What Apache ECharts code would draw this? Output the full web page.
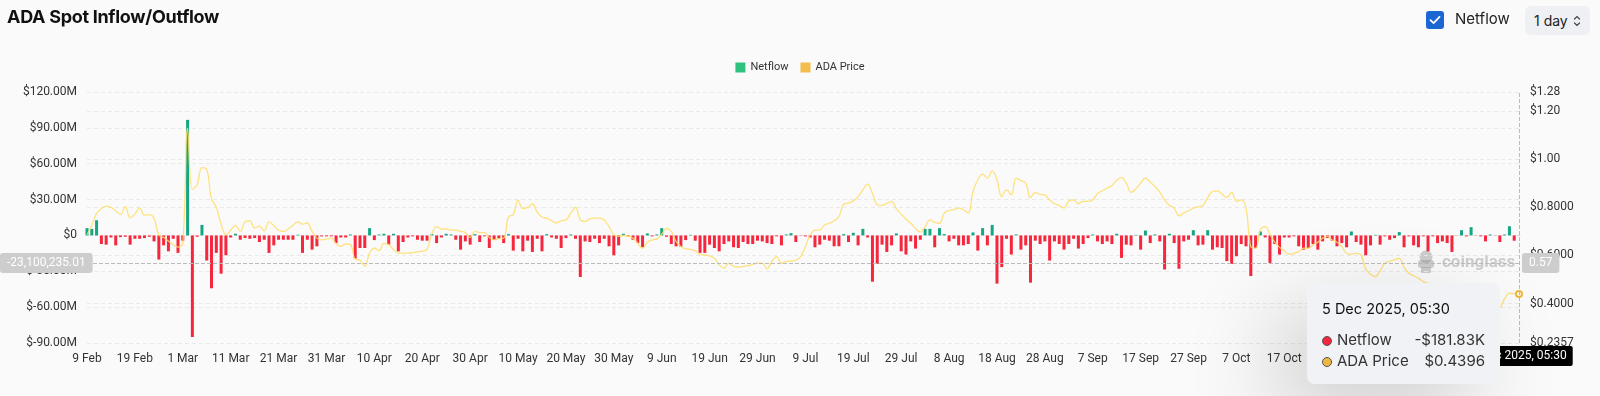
<!DOCTYPE html>
<html>
<head>
<meta charset="utf-8">
<script src="https://cdn.jsdelivr.net/npm/echarts@6/dist/echarts.min.js"></script>
<style>
html, body { margin: 0; padding: 0; background: #fafafa; }
#wrap { position: relative; width: 1600px; height: 396px; overflow: hidden; }
#chart { position: absolute; left: 0; top: 0; width: 1600px; height: 396px; }
.title { position: absolute; left: 7px; top: 6px; font: 700 18px Inter, sans-serif; color: #111; letter-spacing: -0.3px; z-index: 2; }
.check { position: absolute; left: 1426px; top: 11px; width: 18px; height: 18px; border-radius: 3px; background: #1a66d2; z-index: 2; }
.check svg { position: absolute; left: 2px; top: 2px; }
.checklabel { position: absolute; left: 1455px; top: 9px; font: 400 15px Inter, sans-serif; color: #222; z-index: 2; }
.select { position: absolute; left: 1525px; top: 6px; width: 65px; height: 29px; border-radius: 6px; background: #eef0f3; z-index: 2; }
.select span { position: absolute; left: 9px; top: 6px; font: 400 14px Inter, sans-serif; color: #222; }
.select svg { position: absolute; left: 48px; top: 9px; }
</style>
</head>
<body>
<div id="wrap">
  <div id="chart"></div>
  <div class="title">ADA Spot Inflow/Outflow</div>
  <div class="check"><svg width="14" height="14" viewBox="0 0 14 14"><path d="M2.5 7.2 L5.6 10.2 L11.5 3.8" fill="none" stroke="#fff" stroke-width="1.8" stroke-linecap="round" stroke-linejoin="round"/></svg></div>
  <div class="checklabel">Netflow</div>
  <div class="select"><span>1 day</span><svg width="8" height="12" viewBox="0 0 8 12"><path d="M1.5 4 L4 1.5 L6.5 4 M1.5 8 L4 10.5 L6.5 8" fill="none" stroke="#444" stroke-width="1.2" stroke-linecap="round"/></svg></div>
</div>
<script>
// daily categories, 9 Feb 2025 .. 5 Dec 2025
const startDay = Date.UTC(2025, 1, 9);
const dayCount = 300;
const dates = [];
for (let i = 0; i < dayCount; i++) {
  dates.push(new Date(startDay + i * 86400000).toISOString().slice(0, 10));
}
const monthNames = ['Jan', 'Feb', 'Mar', 'Apr', 'May', 'Jun', 'Jul', 'Aug', 'Sep', 'Oct', 'Nov', 'Dec'];

// netflow, millions of USD
const netflowM = [
  6.1, 5.5, 12.7, -7.2, -7.7, -1.7, -8.3, -1.4, -1.1, -7.7,
  -2.8, -2.8, -2.2, -1.1, -5.0, -20.2, -8.3, -13.3, -2.8, -14.6,
  -4.4, 96.7, -85.0, -1.1, 8.8, -21.0, -44.2, -14.6, -32.0, -16.6,
  -1.7, 1.4, -3.6, -2.2, -2.8, -2.2, -5.5, -3.6, -14.6, -8.3,
  -3.6, -3.6, -3.6, -3.6, 0.55, -14.6, -3.6, -11.9, -9.1, -0.8,
  -0.8, -0.8, -6.4, -1.7, -1.7, 0.8, -19.3, -10.5, -10.5, 6.1,
  -3.9, 0.8, 1.4, -7.7, 1.4, -13.3, -5.5, -1.7, -0.8, -3.6,
  -4.4, -4.4, 1.1, -6.4, -1.7, 1.4, 0.8, -3.6, -11.9, -5.0,
  -7.7, 1.1, -5.5, -0.8, -10.5, -3.6, -2.8, -6.4, 1.1, -12.7,
  -2.8, -13.3, -4.4, -13.8, -2.8, -13.3, 1.1, -1.7, -2.8, -10.5,
  -2.2, 0.8, -2.8, -34.8, -5.0, -5.5, -2.8, -6.4, -2.8, -9.1,
  -16.6, -8.3, 1.4, -0.8, -3.6, -6.4, -9.9, 1.7, -0.8, 0.8,
  6.1, -1.1, -7.2, -9.1, -9.4, -3.9, 0.5, -4.4, -14.6, -14.6,
  -7.7, -10.5, -13.3, -7.2, -5.0, -9.9, -10.5, -5.5, -7.2, -7.2,
  -4.4, -5.0, -6.4, -7.2, -0.8, -8.3, 0.8, 1.9, -5.5, -0.3,
  -0.8, -1.7, -9.9, -7.7, -3.6, -4.4, -9.1, -9.1, 1.1, -5.5,
  2.2, -8.3, 5.5, -1.7, -38.7, -23.8, -7.7, -13.8, -8.3, 1.7,
  -13.3, -16.0, -5.0, -11.0, -3.6, 5.5, 5.5, -9.9, 6.1, 1.1,
  -5.0, -2.8, -8.3, -8.3, -7.2, 2.5, -12.7, 6.1, -8.3, 8.8,
  -40.3, -26.5, -2.8, -16.0, 0.8, -11.9, -8.3, -39.5, -4.4, -7.2,
  -5.0, -21.0, -5.0, -7.2, -11.9, -7.2, -2.8, -11.0, -7.2, -2.2,
  0.8, -5.0, -7.2, -5.0, -7.2, 1.4, -18.8, -7.7, -8.3, 0.5,
  -11.9, 4.1, -6.4, 0.8, -5.0, -28.5, 1.4, -6.4, -27.9, -5.0,
  -3.6, 4.4, -8.3, -7.7, 4.4, -11.9, -9.9, -10.5, -21.5, -23.8,
  -17.4, -7.2, -9.1, -34.0, -10.5, 3.3, -1.7, -23.0, -7.2, -16.0,
  -1.7, -1.7, -0.8, -9.1, -11.9, -10.5, -7.2, -11.9, -5.0, -2.2,
  -4.4, -9.1, -6.4, -9.9, 3.3, -5.5, -7.7, -16.6, -8.3, 0.5,
  -7.7, -0.8, -3.6, -2.2, 2.8, -9.9, -0.8, -8.3, -9.9, -0.8,
  -13.3, -0.8, -6.4, -5.0, -6.4, -13.8, -0.2, 4.4, -0.8, 6.9,
  -0.2, -0.8, -5.0, 0.8, -0.2, -5.5, 0.8, 7.7, -4.4, -0.18183
];

// ADA price, USD
const price = [
  0.686, 0.725, 0.775, 0.795, 0.805, 0.800, 0.785, 0.770, 0.803, 0.757,
  0.772, 0.798, 0.768, 0.770, 0.755, 0.685, 0.675, 0.660, 0.645, 0.635,
  0.650, 1.130, 0.875, 0.895, 0.965, 0.958, 0.835, 0.800, 0.730, 0.686,
  0.705, 0.725, 0.700, 0.740, 0.745, 0.715, 0.722, 0.702, 0.740, 0.725,
  0.705, 0.700, 0.710, 0.725, 0.740, 0.730, 0.735, 0.700, 0.672, 0.665,
  0.668, 0.672, 0.650, 0.638, 0.648, 0.645, 0.585, 0.580, 0.555, 0.610,
  0.630, 0.620, 0.650, 0.645, 0.625, 0.610, 0.610, 0.610, 0.612, 0.615,
  0.618, 0.625, 0.690, 0.720, 0.710, 0.710, 0.705, 0.705, 0.700, 0.695,
  0.675, 0.700, 0.695, 0.695, 0.675, 0.665, 0.670, 0.672, 0.760, 0.770,
  0.830, 0.795, 0.800, 0.815, 0.780, 0.760, 0.755, 0.745, 0.735, 0.745,
  0.748, 0.776, 0.800, 0.748, 0.741, 0.752, 0.755, 0.755, 0.747, 0.720,
  0.686, 0.679, 0.683, 0.680, 0.672, 0.651, 0.630, 0.655, 0.665, 0.669,
  0.688, 0.713, 0.700, 0.658, 0.637, 0.627, 0.625, 0.620, 0.605, 0.601,
  0.598, 0.588, 0.561, 0.547, 0.568, 0.554, 0.552, 0.554, 0.558, 0.563,
  0.568, 0.568, 0.544, 0.575, 0.595, 0.568, 0.575, 0.577, 0.580, 0.595,
  0.637, 0.686, 0.705, 0.706, 0.727, 0.734, 0.744, 0.762, 0.813, 0.818,
  0.827, 0.845, 0.873, 0.897, 0.859, 0.811, 0.808, 0.816, 0.825, 0.794,
  0.772, 0.752, 0.734, 0.713, 0.697, 0.720, 0.748, 0.738, 0.734, 0.776,
  0.787, 0.791, 0.797, 0.790, 0.776, 0.866, 0.915, 0.938, 0.922, 0.952,
  0.915, 0.845, 0.873, 0.852, 0.922, 0.911, 0.901, 0.841, 0.861, 0.854,
  0.852, 0.831, 0.816, 0.808, 0.797, 0.827, 0.831, 0.815, 0.825, 0.825,
  0.831, 0.858, 0.869, 0.880, 0.891, 0.912, 0.924, 0.901, 0.863, 0.877,
  0.901, 0.922, 0.905, 0.887, 0.863, 0.831, 0.808, 0.797, 0.765, 0.777,
  0.786, 0.797, 0.802, 0.808, 0.841, 0.866, 0.869, 0.855, 0.841, 0.863,
  0.825, 0.831, 0.797, 0.637, 0.630, 0.707, 0.720, 0.688, 0.655, 0.634,
  0.619, 0.605, 0.609, 0.616, 0.630, 0.630, 0.644, 0.655, 0.672, 0.679,
  0.664, 0.655, 0.637, 0.609, 0.605, 0.609, 0.602, 0.543, 0.522, 0.512,
  0.536, 0.568, 0.575, 0.582, 0.588, 0.550, 0.526, 0.516, 0.505, 0.491,
  0.484, 0.470, 0.465, 0.450, 0.435, 0.412, 0.405, 0.415, 0.420, 0.415,
  0.420, 0.430, 0.420, 0.415, 0.410, 0.385, 0.420, 0.443, 0.440, 0.4396
];

const leftTicks = { min: -90e6, max: 120e6, interval: 30e6 };
const rightRange = { min: 0.2357, max: 1.28 };

const netflow = netflowM.map(v => Math.round(v * 1e6 * 100) / 100);
const GREEN = '#16a683';
const RED = '#f6263d';
const LINE = '#fcc95e';

function fmtMoneyShort(v) {
  const a = Math.abs(v);
  const s = v < 0 ? '-' : '';
  if (a >= 1e6) return s + '$' + (a / 1e6).toFixed(2) + 'M';
  return s + '$' + (a / 1e3).toFixed(2) + 'K';
}
function fullDate(s) {
  const d = new Date(s + 'T00:00:00Z');
  return d.getUTCDate() + ' ' + monthNames[d.getUTCMonth()] + ' ' + d.getUTCFullYear() + ', 05:30';
}

const chart = echarts.init(document.getElementById('chart'));
const textFont = 'Roboto, sans-serif';
const wmColor = 'rgba(150,150,150,0.45)';

chart.setOption({
  animation: false,
  backgroundColor: '#fafafa',
  textStyle: { fontFamily: textFont },
  legend: {
    left: 'center',
    top: 57,
    icon: 'rect',
    itemWidth: 10,
    itemHeight: 10,
    itemGap: 12,
    textStyle: { fontSize: 11, color: '#333', fontFamily: textFont },
    data: [
      { name: 'Netflow', itemStyle: { color: '#2ec27e' } },
      { name: 'ADA Price', itemStyle: { color: '#f3bd4e' } }
    ]
  },
  grid: { left: 87, right: 81, top: 92, bottom: 53 },
  tooltip: {
    trigger: 'axis',
    alwaysShowContent: true,
    transitionDuration: 0,
    position: [1307, 283],
    backgroundColor: '#f1f2f6',
    borderWidth: 0,
    padding: [16, 15, 13, 15],
    extraCssText: 'border-radius:8px;box-shadow:-30px 30px 90px rgba(0,0,0,0.18);width:163px;',
    axisPointer: {
      type: 'cross',
      lineStyle: { color: '#bbb', type: 'dashed', width: 1 },
      crossStyle: { color: '#bbb', type: 'dashed', width: 1 }
    },
    formatter: function (params) {
      const idx = params[0].dataIndex;
      const dot = c => '<span style="display:inline-block;width:8px;height:8px;border-radius:50%;background:' + c + ';border:1px solid #555;margin-right:5px;vertical-align:-1px"></span>';
      const row = (c, name, val) => '<div style="display:flex;justify-content:space-between;line-height:21px;font-size:15px;color:#333">' +
        '<span>' + dot(c) + name + '</span><span>' + val + '</span></div>';
      const nf = netflow[idx];
      return '<div style="font-family:Inter,sans-serif">' +
        '<div style="font-size:14.5px;line-height:20px;color:#111;margin-bottom:10px">' + fullDate(dates[idx]) + '</div>' +
        row(nf < 0 ? RED : GREEN, 'Netflow', fmtMoneyShort(nf)) +
        row('#f0b840', 'ADA Price', '$' + price[idx].toFixed(4)) +
        '</div>';
    }
  },
  xAxis: {
    type: 'category',
    data: dates,
    boundaryGap: false,
    axisLine: { show: false },
    axisTick: { show: false },
    axisLabel: {
      interval: 9,
      margin: 10,
      fontSize: 12,
      color: '#333',
      formatter: function (v) {
        const d = new Date(v + 'T00:00:00Z');
        return d.getUTCDate() + ' ' + monthNames[d.getUTCMonth()];
      }
    },
    splitLine: { show: false },
    axisPointer: {
      label: {
        backgroundColor: '#000',
        color: '#fff',
        fontSize: 12,
        padding: [4, 6],
        borderRadius: 2,
        formatter: p => fullDate(p.value)
      }
    }
  },
  yAxis: [
    {
      type: 'value',
      min: leftTicks.min,
      max: leftTicks.max,
      interval: leftTicks.interval,
      axisLine: { show: false },
      axisTick: { show: false },
      axisLabel: {
        margin: 10,
        fontSize: 12,
        color: '#333',
        formatter: v => v === 0 ? '$0' : '$' + (v / 1e6).toFixed(2) + 'M'
      },
      splitLine: { lineStyle: { color: '#e9e9e9', type: [4, 3] } },
      axisPointer: {
        label: {
          backgroundColor: '#cdcdcd',
          color: '#fff',
          fontSize: 12,
          padding: [4, 7],
          borderRadius: 3,
          formatter: p => Number(p.value).toLocaleString('en-US', { minimumFractionDigits: 2, maximumFractionDigits: 2 })
        }
      }
    },
    {
      type: 'value',
      position: 'right',
      min: rightRange.min,
      max: rightRange.max,
      axisLine: { show: false },
      axisTick: { show: false },
      axisLabel: {
        margin: 11,
        fontSize: 12,
        color: '#333',
        formatter: v => v >= 1 ? '$' + v.toFixed(2) : '$' + v.toFixed(4)
      },
      splitLine: { lineStyle: { color: '#e9e9e9', type: [4, 3] } },
      axisPointer: {
        label: {
          backgroundColor: '#cdcdcd',
          color: '#fff',
          fontSize: 12,
          padding: [4, 7],
          borderRadius: 3,
          formatter: p => Number(p.value).toFixed(2)
        }
      }
    }
  ],
  // coinglass watermark
  graphic: [
    { type: 'circle', shape: { cx: 1426, cy: 257, r: 6.5 }, style: { fill: wmColor } },
    { type: 'rect', shape: { x: 1418, y: 260, width: 16, height: 8, r: 3 }, style: { fill: wmColor } },
    { type: 'rect', shape: { x: 1421, y: 267, width: 10, height: 6, r: 1 }, style: { fill: wmColor } },
    { type: 'text', x: 1442, y: 254, style: { text: 'coinglass', font: 'bold 17px Roboto, sans-serif', fill: wmColor } }
  ],
  series: [
    {
      name: 'Netflow',
      type: 'bar',
      yAxisIndex: 0,
      barWidth: 3,
      clip: false,
      data: netflow,
      itemStyle: { color: p => p.value >= 0 ? GREEN : RED },
      emphasis: { disabled: true }
    },
    {
      name: 'ADA Price',
      type: 'line',
      yAxisIndex: 1,
      smooth: 0.4,
      showSymbol: false,
      symbolSize: 5,
      data: price,
      lineStyle: { color: LINE, width: 1.3, opacity: 0.85 },
      itemStyle: { color: '#f0b840' }
    }
  ]
});

const yPix = chart.convertToPixel({ yAxisIndex: 0 }, -23100235.01);
const xPix = chart.convertToPixel({ xAxisIndex: 0 }, dates.length - 1);
chart.dispatchAction({ type: 'showTip', x: xPix, y: yPix });
</script>
</body>
</html>
